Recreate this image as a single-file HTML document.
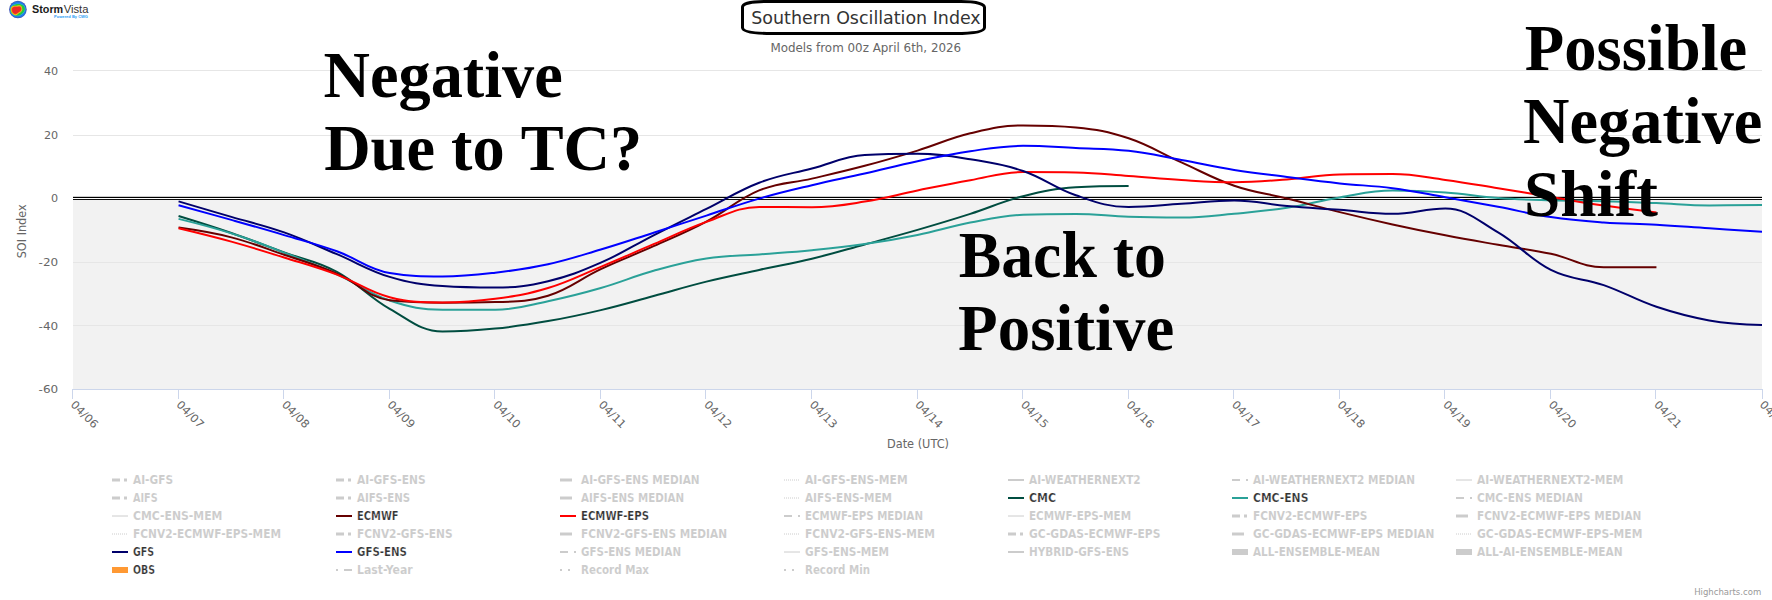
<!DOCTYPE html>
<html lang="en"><head><meta charset="utf-8"><title>Southern Oscillation Index</title>
<style>
html,body{margin:0;padding:0;background:#fff;}
body{width:1772px;height:600px;overflow:hidden;position:relative;}
svg{display:block;position:absolute;left:0;top:0;}
.ax{font-family:"DejaVu Sans", "Liberation Sans", sans-serif;font-size:11px;fill:#666;}
.lg{font-family:"DejaVu Sans Condensed", "DejaVu Sans", "Liberation Sans", sans-serif;font-size:12px;font-weight:bold;stroke:#fff;stroke-width:0.22px;}
.big{font-family:"Liberation Serif", serif;font-weight:bold;font-size:65px;fill:#000;font-kerning:none;}
.ti{font-family:"DejaVu Sans", "Liberation Sans", sans-serif;font-size:18px;fill:#333;}
.st{font-family:"DejaVu Sans", "Liberation Sans", sans-serif;font-size:12px;fill:#666;}
.cr{font-family:"DejaVu Sans", "Liberation Sans", sans-serif;font-size:9px;fill:#999;}
.lg1{font-family:"Liberation Sans",sans-serif;font-weight:bold;font-size:10px;fill:#1a1a1a;}
.lg2{font-family:"Liberation Sans",sans-serif;font-size:10px;fill:#333;}
.lg3{font-family:"Liberation Sans",sans-serif;font-weight:bold;font-size:3.7px;fill:#2a9df4;}
</style></head><body>
<svg width="1772" height="600" viewBox="0 0 1772 600">
<rect x="0" y="0" width="1772" height="600" fill="#ffffff"/>

<rect x="73" y="199.5" width="1689" height="190.0" fill="#f2f2f2"/>
<path d="M73 70.5H1762" stroke="#e6e6e6" stroke-width="1" fill="none"/>
<path d="M73 135.5H1762" stroke="#e6e6e6" stroke-width="1" fill="none"/>
<path d="M73 262.5H1762" stroke="#e6e6e6" stroke-width="1" fill="none"/>
<path d="M73 325.5H1762" stroke="#e6e6e6" stroke-width="1" fill="none"/>
<rect x="73" y="196.8" width="1689" height="1.3" fill="#000"/>
<rect x="73" y="198.1" width="1689" height="0.9" fill="#fff"/>
<rect x="73" y="199.0" width="1689" height="0.95" fill="#000"/>
<path d="M72 389.5H1763" stroke="#ccd6eb" stroke-width="1" fill="none"/>
<path d="M72.5 389.5V399" stroke="#ccd6eb" stroke-width="1" fill="none"/>
<path d="M178.5 389.5V399" stroke="#ccd6eb" stroke-width="1" fill="none"/>
<path d="M283.5 389.5V399" stroke="#ccd6eb" stroke-width="1" fill="none"/>
<path d="M389.5 389.5V399" stroke="#ccd6eb" stroke-width="1" fill="none"/>
<path d="M494.5 389.5V399" stroke="#ccd6eb" stroke-width="1" fill="none"/>
<path d="M600.5 389.5V399" stroke="#ccd6eb" stroke-width="1" fill="none"/>
<path d="M705.5 389.5V399" stroke="#ccd6eb" stroke-width="1" fill="none"/>
<path d="M811.5 389.5V399" stroke="#ccd6eb" stroke-width="1" fill="none"/>
<path d="M917.5 389.5V399" stroke="#ccd6eb" stroke-width="1" fill="none"/>
<path d="M1022.5 389.5V399" stroke="#ccd6eb" stroke-width="1" fill="none"/>
<path d="M1128.5 389.5V399" stroke="#ccd6eb" stroke-width="1" fill="none"/>
<path d="M1233.5 389.5V399" stroke="#ccd6eb" stroke-width="1" fill="none"/>
<path d="M1339.5 389.5V399" stroke="#ccd6eb" stroke-width="1" fill="none"/>
<path d="M1444.5 389.5V399" stroke="#ccd6eb" stroke-width="1" fill="none"/>
<path d="M1550.5 389.5V399" stroke="#ccd6eb" stroke-width="1" fill="none"/>
<path d="M1655.5 389.5V399" stroke="#ccd6eb" stroke-width="1" fill="none"/>
<path d="M1762.5 389.5V399" stroke="#ccd6eb" stroke-width="1" fill="none"/>
<text class="ax" x="44.0" y="75.0" textLength="14.2" lengthAdjust="spacingAndGlyphs">40</text>
<text class="ax" x="44.0" y="138.6" textLength="14.2" lengthAdjust="spacingAndGlyphs">20</text>
<text class="ax" x="51.1" y="202.3" textLength="7.1" lengthAdjust="spacingAndGlyphs">0</text>
<text class="ax" x="38.6" y="265.9" textLength="19.6" lengthAdjust="spacingAndGlyphs">-20</text>
<text class="ax" x="38.6" y="329.6" textLength="19.6" lengthAdjust="spacingAndGlyphs">-40</text>
<text class="ax" x="38.6" y="393.2" textLength="19.6" lengthAdjust="spacingAndGlyphs">-60</text>
<text class="ax" transform="translate(70.1,405.3) rotate(45)" x="0" y="0" textLength="33.5" lengthAdjust="spacingAndGlyphs">04/06</text>
<text class="ax" transform="translate(175.7,405.3) rotate(45)" x="0" y="0" textLength="33.5" lengthAdjust="spacingAndGlyphs">04/07</text>
<text class="ax" transform="translate(281.2,405.3) rotate(45)" x="0" y="0" textLength="33.5" lengthAdjust="spacingAndGlyphs">04/08</text>
<text class="ax" transform="translate(386.8,405.3) rotate(45)" x="0" y="0" textLength="33.5" lengthAdjust="spacingAndGlyphs">04/09</text>
<text class="ax" transform="translate(492.4,405.3) rotate(45)" x="0" y="0" textLength="33.5" lengthAdjust="spacingAndGlyphs">04/10</text>
<text class="ax" transform="translate(597.9,405.3) rotate(45)" x="0" y="0" textLength="33.5" lengthAdjust="spacingAndGlyphs">04/11</text>
<text class="ax" transform="translate(703.5,405.3) rotate(45)" x="0" y="0" textLength="33.5" lengthAdjust="spacingAndGlyphs">04/12</text>
<text class="ax" transform="translate(809.0,405.3) rotate(45)" x="0" y="0" textLength="33.5" lengthAdjust="spacingAndGlyphs">04/13</text>
<text class="ax" transform="translate(914.6,405.3) rotate(45)" x="0" y="0" textLength="33.5" lengthAdjust="spacingAndGlyphs">04/14</text>
<text class="ax" transform="translate(1020.2,405.3) rotate(45)" x="0" y="0" textLength="33.5" lengthAdjust="spacingAndGlyphs">04/15</text>
<text class="ax" transform="translate(1125.7,405.3) rotate(45)" x="0" y="0" textLength="33.5" lengthAdjust="spacingAndGlyphs">04/16</text>
<text class="ax" transform="translate(1231.3,405.3) rotate(45)" x="0" y="0" textLength="33.5" lengthAdjust="spacingAndGlyphs">04/17</text>
<text class="ax" transform="translate(1336.8,405.3) rotate(45)" x="0" y="0" textLength="33.5" lengthAdjust="spacingAndGlyphs">04/18</text>
<text class="ax" transform="translate(1442.4,405.3) rotate(45)" x="0" y="0" textLength="33.5" lengthAdjust="spacingAndGlyphs">04/19</text>
<text class="ax" transform="translate(1548.0,405.3) rotate(45)" x="0" y="0" textLength="33.5" lengthAdjust="spacingAndGlyphs">04/20</text>
<text class="ax" transform="translate(1653.5,405.3) rotate(45)" x="0" y="0" textLength="33.5" lengthAdjust="spacingAndGlyphs">04/21</text>
<text class="ax" transform="translate(1759.1,405.3) rotate(45)" x="0" y="0" textLength="33.5" lengthAdjust="spacingAndGlyphs">04/22</text>
<text class="ax" x="887" y="448" textLength="62" lengthAdjust="spacingAndGlyphs" style="font-size:12px">Date (UTC)</text>
<text class="ax" transform="translate(25.8,258.3) rotate(-90)" textLength="54" lengthAdjust="spacingAndGlyphs" style="font-size:12px">SOI Index</text>
<clipPath id="pc"><rect x="73" y="0" width="1689" height="390"/></clipPath>
<g clip-path="url(#pc)" fill="none" stroke-width="2" stroke-linejoin="round" stroke-linecap="butt">
<path d="M178.56 216.00C178.56 216.00 210.23 225.72 231.34 233.00C252.45 240.28 263.01 244.64 284.12 252.40C305.24 260.16 315.79 260.52 336.91 271.80C358.02 283.08 368.58 296.84 389.69 308.80C410.80 320.76 421.36 331.60 442.47 331.60C463.58 331.60 474.14 330.70 495.25 328.60C516.36 326.50 526.92 324.80 548.03 321.10C569.14 317.40 579.70 315.12 600.81 310.10C621.92 305.08 632.48 301.70 653.59 296.00C674.71 290.30 685.26 286.82 706.38 281.60C727.49 276.38 738.05 274.48 759.16 269.90C780.27 265.32 790.83 263.78 811.94 258.70C833.05 253.62 843.61 250.26 864.72 244.50C885.83 238.74 896.39 236.02 917.50 229.90C938.61 223.78 949.17 220.64 970.28 213.90C991.39 207.16 1001.95 201.52 1023.06 196.20C1044.17 190.88 1054.73 188.70 1075.84 187.30C1096.95 185.90 1128.62 185.90 1128.62 185.90" stroke="#004d40"/>
<path d="M178.56 218.90C178.56 218.90 210.23 226.66 231.34 233.40C252.45 240.14 263.01 244.42 284.12 252.60C305.24 260.78 315.79 264.72 336.91 274.30C358.02 283.88 368.58 293.42 389.69 300.50C410.80 307.58 421.36 309.60 442.47 309.70C463.58 309.80 474.14 309.80 495.25 309.80C516.36 309.80 526.92 305.56 548.03 301.20C569.14 296.84 579.70 294.08 600.81 288.00C621.92 281.92 632.48 276.70 653.59 270.80C674.71 264.90 685.26 261.78 706.38 258.50C727.49 255.22 738.05 256.06 759.16 254.40C780.27 252.74 790.83 252.26 811.94 250.20C833.05 248.14 843.61 247.14 864.72 244.10C885.83 241.06 896.39 239.30 917.50 235.00C938.61 230.70 949.17 226.64 970.28 222.60C991.39 218.56 1001.95 215.70 1023.06 214.80C1044.17 213.90 1054.73 213.90 1075.84 213.90C1096.95 213.90 1107.51 216.10 1128.62 216.80C1149.74 217.50 1160.29 217.50 1181.41 217.50C1202.52 217.50 1213.08 215.64 1234.19 213.70C1255.30 211.76 1265.86 211.06 1286.97 207.80C1308.08 204.54 1318.64 200.84 1339.75 197.40C1360.86 193.96 1371.42 190.60 1392.53 190.60C1413.64 190.60 1424.20 191.12 1445.31 192.60C1466.42 194.08 1476.98 196.46 1498.09 198.00C1519.21 199.54 1529.76 199.66 1550.88 200.30C1571.99 200.94 1582.55 200.64 1603.66 201.20C1624.77 201.76 1635.33 202.26 1656.44 203.10C1677.55 203.94 1688.11 205.40 1709.22 205.40C1730.33 205.40 1762.00 205.00 1762.00 205.00" stroke="#2aa198"/>
<path d="M178.56 227.60C178.56 227.60 210.23 231.98 231.34 237.40C252.45 242.82 263.01 247.46 284.12 254.70C305.24 261.94 315.79 264.48 336.91 273.60C358.02 282.72 368.58 297.90 389.69 300.30C410.80 302.70 421.36 302.70 442.47 302.70C463.58 302.70 474.14 302.70 495.25 302.10C516.36 301.50 526.92 302.10 548.03 295.70C569.14 289.30 579.70 279.00 600.81 269.10C621.92 259.20 632.48 255.68 653.59 246.20C674.71 236.72 685.26 232.86 706.38 221.70C727.49 210.54 738.05 199.02 759.16 190.40C780.27 181.78 790.83 183.52 811.94 178.60C833.05 173.68 843.61 171.40 864.72 165.80C885.83 160.20 896.39 157.10 917.50 150.60C938.61 144.10 949.17 138.34 970.28 133.30C991.39 128.26 1001.95 125.40 1023.06 125.40C1044.17 125.40 1054.73 125.40 1075.84 127.40C1096.95 129.40 1107.51 131.30 1128.62 138.30C1149.74 145.30 1160.29 152.92 1181.41 162.40C1202.52 171.88 1213.08 178.48 1234.19 185.70C1255.30 192.92 1265.86 193.22 1286.97 198.50C1308.08 203.78 1318.64 206.92 1339.75 212.10C1360.86 217.28 1371.42 219.76 1392.53 224.40C1413.64 229.04 1424.20 231.22 1445.31 235.30C1466.42 239.38 1476.98 241.10 1498.09 244.80C1519.21 248.50 1529.76 249.30 1550.88 253.80C1571.99 258.30 1582.55 267.30 1603.66 267.30C1624.77 267.30 1656.44 267.20 1656.44 267.20" stroke="#660000"/>
<path d="M178.56 228.20C178.56 228.20 210.23 235.74 231.34 241.60C252.45 247.46 263.01 250.90 284.12 257.50C305.24 264.10 315.79 266.66 336.91 274.60C358.02 282.54 368.58 291.90 389.69 297.20C410.80 302.50 421.36 302.50 442.47 302.50C463.58 302.50 474.14 301.70 495.25 298.80C516.36 295.90 526.92 294.40 548.03 288.00C569.14 281.60 579.70 275.56 600.81 266.80C621.92 258.04 632.48 253.18 653.59 244.20C674.71 235.22 685.26 229.34 706.38 221.90C727.49 214.46 738.05 207.00 759.16 207.00C780.27 207.00 790.83 207.20 811.94 207.20C833.05 207.20 843.61 204.94 864.72 201.60C885.83 198.26 896.39 194.78 917.50 190.50C938.61 186.22 949.17 183.90 970.28 180.20C991.39 176.50 1001.95 172.00 1023.06 172.00C1044.17 172.00 1054.73 172.00 1075.84 172.40C1096.95 172.80 1107.51 174.38 1128.62 175.90C1149.74 177.42 1160.29 178.74 1181.41 180.00C1202.52 181.26 1213.08 182.20 1234.19 182.20C1255.30 182.20 1265.86 181.04 1286.97 179.50C1308.08 177.96 1318.64 174.90 1339.75 174.50C1360.86 174.10 1371.42 174.10 1392.53 174.10C1413.64 174.10 1424.20 177.08 1445.31 179.90C1466.42 182.72 1476.98 184.78 1498.09 188.20C1519.21 191.62 1529.76 193.52 1550.88 197.00C1571.99 200.48 1582.55 202.52 1603.66 205.60C1624.77 208.68 1656.44 212.40 1656.44 212.40" stroke="#ff0000"/>
<path d="M178.56 201.40C178.56 201.40 210.23 210.70 231.34 216.90C252.45 223.10 263.01 224.94 284.12 232.40C305.24 239.86 315.79 245.30 336.91 254.20C358.02 263.10 368.58 270.52 389.69 276.90C410.80 283.28 421.36 284.60 442.47 286.10C463.58 287.60 474.14 287.60 495.25 287.60C516.36 287.60 526.92 286.18 548.03 281.20C569.14 276.22 579.70 271.88 600.81 262.70C621.92 253.52 632.48 246.06 653.59 235.30C674.71 224.54 685.26 219.42 706.38 208.90C727.49 198.38 738.05 190.78 759.16 182.70C780.27 174.62 790.83 174.02 811.94 168.50C833.05 162.98 843.61 156.40 864.72 155.10C885.83 153.80 896.39 153.80 917.50 153.80C938.61 153.80 949.17 155.86 970.28 159.30C991.39 162.74 1001.95 163.80 1023.06 171.00C1044.17 178.20 1054.73 188.12 1075.84 195.30C1096.95 202.48 1107.51 206.90 1128.62 206.90C1149.74 206.90 1160.29 205.00 1181.41 203.70C1202.52 202.40 1213.08 200.40 1234.19 200.40C1255.30 200.40 1265.86 204.12 1286.97 206.00C1308.08 207.88 1318.64 208.24 1339.75 209.80C1360.86 211.36 1371.42 213.80 1392.53 213.80C1413.64 213.80 1424.20 208.50 1445.31 208.50C1466.42 208.50 1476.98 220.12 1498.09 232.40C1519.21 244.68 1529.76 259.36 1550.88 269.90C1571.99 280.44 1582.55 277.72 1603.66 285.10C1624.77 292.48 1635.33 299.74 1656.44 306.80C1677.55 313.86 1688.11 316.74 1709.22 320.40C1730.33 324.06 1762.00 325.10 1762.00 325.10" stroke="#00006b"/>
<path d="M178.56 205.30C178.56 205.30 210.23 213.94 231.34 219.90C252.45 225.86 263.01 228.82 284.12 235.10C305.24 241.38 315.79 243.72 336.91 251.30C358.02 258.88 368.58 269.50 389.69 273.00C410.80 276.50 421.36 276.50 442.47 276.50C463.58 276.50 474.14 275.14 495.25 272.70C516.36 270.26 526.92 268.94 548.03 264.30C569.14 259.66 579.70 255.82 600.81 249.50C621.92 243.18 632.48 239.48 653.59 232.70C674.71 225.92 685.26 222.42 706.38 215.60C727.49 208.78 738.05 204.68 759.16 198.60C780.27 192.52 790.83 190.22 811.94 185.20C833.05 180.18 843.61 178.30 864.72 173.50C885.83 168.70 896.39 165.66 917.50 161.20C938.61 156.74 949.17 154.28 970.28 151.20C991.39 148.12 1001.95 145.80 1023.06 145.80C1044.17 145.80 1054.73 147.00 1075.84 148.00C1096.95 149.00 1107.51 148.40 1128.62 150.80C1149.74 153.20 1160.29 156.18 1181.41 160.00C1202.52 163.82 1213.08 166.50 1234.19 169.90C1255.30 173.30 1265.86 174.30 1286.97 177.00C1308.08 179.70 1318.64 181.16 1339.75 183.40C1360.86 185.64 1371.42 185.44 1392.53 188.20C1413.64 190.96 1424.20 193.48 1445.31 197.20C1466.42 200.92 1476.98 202.82 1498.09 206.80C1519.21 210.78 1529.76 213.98 1550.88 217.10C1571.99 220.22 1582.55 220.88 1603.66 222.40C1624.77 223.92 1635.33 223.52 1656.44 224.70C1677.55 225.88 1688.11 226.90 1709.22 228.30C1730.33 229.70 1762.00 231.70 1762.00 231.70" stroke="#0000ff"/>
</g>
<path d="M765 1.5H961C975 1.5 984.5 3.5 984.5 7.5V27.5C984.5 31.5 975 33.5 955 33.5H772C752 33.5 742.5 31.5 742.5 27.5V7C742.5 3.5 752 1.5 765 1.5Z" fill="#fff" stroke="#000" stroke-width="3"/>
<text x="751.3" y="23.7" textLength="229.4" lengthAdjust="spacingAndGlyphs" class="ti">Southern Oscillation Index</text>
<text x="770.4" y="51.6" textLength="190.8" lengthAdjust="spacingAndGlyphs" class="st">Models from 00z April 6th, 2026</text>
<text class="big" x="323.60" y="96.7" textLength="239.22" lengthAdjust="spacingAndGlyphs">Negative</text>
<text class="big" x="324.20" y="169.9" textLength="317.94" lengthAdjust="spacingAndGlyphs">Due to TC?</text>
<text class="big" x="958.70" y="276.7" textLength="207.19" lengthAdjust="spacingAndGlyphs">Back to</text>
<text class="big" x="958.10" y="349.9" textLength="216.12" lengthAdjust="spacingAndGlyphs">Positive</text>
<text class="big" x="1524.80" y="69.5" textLength="222.44" lengthAdjust="spacingAndGlyphs">Possible</text>
<text class="big" x="1523.10" y="142.9" textLength="239.33" lengthAdjust="spacingAndGlyphs">Negative</text>
<text class="big" x="1524.00" y="216.3" textLength="133.87" lengthAdjust="spacingAndGlyphs">Shift</text>
<path d="M112 480h8M124 480h3" stroke="#cccccc" stroke-width="3" fill="none"/>
<text class="lg" x="133" y="484" textLength="40" lengthAdjust="spacingAndGlyphs" fill="#cccccc" style="stroke-width:0.08px">AI-GFS</text>
<path d="M336 480h8M348 480h3" stroke="#cccccc" stroke-width="3" fill="none"/>
<text class="lg" x="357" y="484" textLength="68.6" lengthAdjust="spacingAndGlyphs" fill="#cccccc" style="stroke-width:0.08px">AI-GFS-ENS</text>
<path d="M560 480h12" stroke="#cccccc" stroke-width="3" fill="none"/>
<text class="lg" x="581" y="484" textLength="118.6" lengthAdjust="spacingAndGlyphs" fill="#cccccc" style="stroke-width:0.08px">AI-GFS-ENS MEDIAN</text>
<path d="M784 480h16" stroke="#cccccc" stroke-width="1" stroke-dasharray="1 1" fill="none"/>
<text class="lg" x="805" y="484" textLength="102.6" lengthAdjust="spacingAndGlyphs" fill="#cccccc" style="stroke-width:0.08px">AI-GFS-ENS-MEM</text>
<path d="M1008 480h16" stroke="#cccccc" stroke-width="2" fill="none"/>
<text class="lg" x="1029" y="484" textLength="111.6" lengthAdjust="spacingAndGlyphs" fill="#cccccc" style="stroke-width:0.08px">AI-WEATHERNEXT2</text>
<path d="M1232 480h8M1246 480h2" stroke="#cccccc" stroke-width="2" fill="none"/>
<text class="lg" x="1253" y="484" textLength="162" lengthAdjust="spacingAndGlyphs" fill="#cccccc" style="stroke-width:0.08px">AI-WEATHERNEXT2 MEDIAN</text>
<path d="M1456 480h16" stroke="#cccccc" stroke-width="1" fill="none"/>
<text class="lg" x="1477" y="484" textLength="146.3" lengthAdjust="spacingAndGlyphs" fill="#cccccc" style="stroke-width:0.08px">AI-WEATHERNEXT2-MEM</text>
<path d="M112 498h8M124 498h3" stroke="#cccccc" stroke-width="3" fill="none"/>
<text class="lg" x="133" y="502" textLength="24.6" lengthAdjust="spacingAndGlyphs" fill="#cccccc" style="stroke-width:0.08px">AIFS</text>
<path d="M336 498h8M348 498h3" stroke="#cccccc" stroke-width="3" fill="none"/>
<text class="lg" x="357" y="502" textLength="53" lengthAdjust="spacingAndGlyphs" fill="#cccccc" style="stroke-width:0.08px">AIFS-ENS</text>
<path d="M560 498h12" stroke="#cccccc" stroke-width="3" fill="none"/>
<text class="lg" x="581" y="502" textLength="103" lengthAdjust="spacingAndGlyphs" fill="#cccccc" style="stroke-width:0.08px">AIFS-ENS MEDIAN</text>
<path d="M784 498h16" stroke="#cccccc" stroke-width="1" stroke-dasharray="1 1" fill="none"/>
<text class="lg" x="805" y="502" textLength="87" lengthAdjust="spacingAndGlyphs" fill="#cccccc" style="stroke-width:0.08px">AIFS-ENS-MEM</text>
<path d="M1008 498H1024" stroke="#004d40" stroke-width="2" fill="none"/>
<text class="lg" x="1029" y="502" textLength="27" lengthAdjust="spacingAndGlyphs" fill="#333333">CMC</text>
<path d="M1232 498H1248" stroke="#2aa198" stroke-width="2" fill="none"/>
<text class="lg" x="1253" y="502" textLength="55.4" lengthAdjust="spacingAndGlyphs" fill="#333333">CMC-ENS</text>
<path d="M1456 498h8M1470 498h2" stroke="#cccccc" stroke-width="2" fill="none"/>
<text class="lg" x="1477" y="502" textLength="105.8" lengthAdjust="spacingAndGlyphs" fill="#cccccc" style="stroke-width:0.08px">CMC-ENS MEDIAN</text>
<path d="M112 516h16" stroke="#cccccc" stroke-width="1" fill="none"/>
<text class="lg" x="133" y="520" textLength="89.4" lengthAdjust="spacingAndGlyphs" fill="#cccccc" style="stroke-width:0.08px">CMC-ENS-MEM</text>
<path d="M336 516H352" stroke="#660000" stroke-width="2" fill="none"/>
<text class="lg" x="357" y="520" textLength="41.6" lengthAdjust="spacingAndGlyphs" fill="#333333">ECMWF</text>
<path d="M560 516H576" stroke="#ff0000" stroke-width="2" fill="none"/>
<text class="lg" x="581" y="520" textLength="68" lengthAdjust="spacingAndGlyphs" fill="#333333">ECMWF-EPS</text>
<path d="M784 516h8M798 516h2" stroke="#cccccc" stroke-width="2" fill="none"/>
<text class="lg" x="805" y="520" textLength="118" lengthAdjust="spacingAndGlyphs" fill="#cccccc" style="stroke-width:0.08px">ECMWF-EPS MEDIAN</text>
<path d="M1008 516h16" stroke="#cccccc" stroke-width="1" fill="none"/>
<text class="lg" x="1029" y="520" textLength="102" lengthAdjust="spacingAndGlyphs" fill="#cccccc" style="stroke-width:0.08px">ECMWF-EPS-MEM</text>
<path d="M1232 516h8M1244 516h3" stroke="#cccccc" stroke-width="3" fill="none"/>
<text class="lg" x="1253" y="520" textLength="114.4" lengthAdjust="spacingAndGlyphs" fill="#cccccc" style="stroke-width:0.08px">FCNV2-ECMWF-EPS</text>
<path d="M1456 516h12" stroke="#cccccc" stroke-width="3" fill="none"/>
<text class="lg" x="1477" y="520" textLength="164.3" lengthAdjust="spacingAndGlyphs" fill="#cccccc" style="stroke-width:0.08px">FCNV2-ECMWF-EPS MEDIAN</text>
<path d="M112 534h16" stroke="#cccccc" stroke-width="1" stroke-dasharray="1 1" fill="none"/>
<text class="lg" x="133" y="538" textLength="148" lengthAdjust="spacingAndGlyphs" fill="#cccccc" style="stroke-width:0.08px">FCNV2-ECMWF-EPS-MEM</text>
<path d="M336 534h8M348 534h3" stroke="#cccccc" stroke-width="3" fill="none"/>
<text class="lg" x="357" y="538" textLength="95.6" lengthAdjust="spacingAndGlyphs" fill="#cccccc" style="stroke-width:0.08px">FCNV2-GFS-ENS</text>
<path d="M560 534h12" stroke="#cccccc" stroke-width="3" fill="none"/>
<text class="lg" x="581" y="538" textLength="146" lengthAdjust="spacingAndGlyphs" fill="#cccccc" style="stroke-width:0.08px">FCNV2-GFS-ENS MEDIAN</text>
<path d="M784 534h16" stroke="#cccccc" stroke-width="1" stroke-dasharray="1 1" fill="none"/>
<text class="lg" x="805" y="538" textLength="130" lengthAdjust="spacingAndGlyphs" fill="#cccccc" style="stroke-width:0.08px">FCNV2-GFS-ENS-MEM</text>
<path d="M1008 534h8M1020 534h3" stroke="#cccccc" stroke-width="3" fill="none"/>
<text class="lg" x="1029" y="538" textLength="131.4" lengthAdjust="spacingAndGlyphs" fill="#cccccc" style="stroke-width:0.08px">GC-GDAS-ECMWF-EPS</text>
<path d="M1232 534h12" stroke="#cccccc" stroke-width="3" fill="none"/>
<text class="lg" x="1253" y="538" textLength="181.4" lengthAdjust="spacingAndGlyphs" fill="#cccccc" style="stroke-width:0.08px">GC-GDAS-ECMWF-EPS MEDIAN</text>
<path d="M1456 534h16" stroke="#cccccc" stroke-width="1" stroke-dasharray="1 1" fill="none"/>
<text class="lg" x="1477" y="538" textLength="165.4" lengthAdjust="spacingAndGlyphs" fill="#cccccc" style="stroke-width:0.08px">GC-GDAS-ECMWF-EPS-MEM</text>
<path d="M112 552H128" stroke="#00006b" stroke-width="2" fill="none"/>
<text class="lg" x="133" y="556" textLength="21" lengthAdjust="spacingAndGlyphs" fill="#333333">GFS</text>
<path d="M336 552H352" stroke="#0000ff" stroke-width="2" fill="none"/>
<text class="lg" x="357" y="556" textLength="50" lengthAdjust="spacingAndGlyphs" fill="#333333">GFS-ENS</text>
<path d="M560 552h8M574 552h2" stroke="#cccccc" stroke-width="2" fill="none"/>
<text class="lg" x="581" y="556" textLength="100" lengthAdjust="spacingAndGlyphs" fill="#cccccc" style="stroke-width:0.08px">GFS-ENS MEDIAN</text>
<path d="M784 552h16" stroke="#cccccc" stroke-width="1" fill="none"/>
<text class="lg" x="805" y="556" textLength="84" lengthAdjust="spacingAndGlyphs" fill="#cccccc" style="stroke-width:0.08px">GFS-ENS-MEM</text>
<path d="M1008 552h16" stroke="#cccccc" stroke-width="2" fill="none"/>
<text class="lg" x="1029" y="556" textLength="100" lengthAdjust="spacingAndGlyphs" fill="#cccccc" style="stroke-width:0.08px">HYBRID-GFS-ENS</text>
<rect x="1232" y="549" width="16" height="6" fill="#cccccc"/>
<text class="lg" x="1253" y="556" textLength="127" lengthAdjust="spacingAndGlyphs" fill="#cccccc" style="stroke-width:0.08px">ALL-ENSEMBLE-MEAN</text>
<rect x="1456" y="549" width="16" height="6" fill="#cccccc"/>
<text class="lg" x="1477" y="556" textLength="145.6" lengthAdjust="spacingAndGlyphs" fill="#cccccc" style="stroke-width:0.08px">ALL-AI-ENSEMBLE-MEAN</text>
<rect x="112" y="567" width="16" height="6" fill="#ff9933"/>
<text class="lg" x="133" y="574" textLength="22" lengthAdjust="spacingAndGlyphs" fill="#333333">OBS</text>
<path d="M336 570h2M344 570h8" stroke="#cccccc" stroke-width="2" fill="none"/>
<text class="lg" x="357" y="574" textLength="55.6" lengthAdjust="spacingAndGlyphs" fill="#cccccc" style="stroke-width:0.08px">Last-Year</text>
<path d="M560 570h2M568 570h2" stroke="#cccccc" stroke-width="2" fill="none"/>
<text class="lg" x="581" y="574" textLength="68" lengthAdjust="spacingAndGlyphs" fill="#cccccc" style="stroke-width:0.08px">Record Max</text>
<path d="M784 570h2M792 570h2" stroke="#cccccc" stroke-width="2" fill="none"/>
<text class="lg" x="805" y="574" textLength="65" lengthAdjust="spacingAndGlyphs" fill="#cccccc" style="stroke-width:0.08px">Record Min</text>
<text x="1694.2" y="595" textLength="67" lengthAdjust="spacingAndGlyphs" class="cr">Highcharts.com</text>
<g id="logo">
<circle cx="17.9" cy="9.5" r="8.8" fill="#4456b8"/>
<circle cx="17.9" cy="9.5" r="8.1" fill="#1e7ee6"/>
<path d="M10.0 9.6C10.2 6.2 13.8 3.6 18.3 3.6C22.8 3.6 25.6 6.2 25.4 9.2C25.2 12.2 22.8 13.9 20.8 15.2C19 16.3 16.5 16.5 14.3 15.7C11.6 14.7 9.8 12.4 10.0 9.6Z" fill="#35a8ea"/>
<path d="M10.4 9.6C10.6 6.5 14 4.1 18.3 4.1C22.5 4.1 25.0 6.5 24.8 9.2C24.6 11.9 22.5 13.5 20.6 14.8C19 15.8 16.5 16 14.5 15.3C12 14.3 10.2 12.3 10.4 9.6Z" fill="#22c840"/>
<path id="rb" d="M11.6 9.9C11.4 8 12.7 6.9 14.1 6.6C15.5 6.3 16.6 6.8 17.8 6.4C19.3 5.9 20.8 6.3 21.3 7.7C21.8 9.1 21.4 10.4 20.4 11.4C19.4 12.3 18.2 12.5 17.3 13.5C16.5 14.4 15.1 14.6 13.9 13.8C12.6 12.9 11.8 11.6 11.6 9.9Z" fill="#f7b21e" stroke="#f5dc14" stroke-width="1.7" stroke-linejoin="round"/>
<path d="M11.6 9.9C11.4 8 12.7 6.9 14.1 6.6C15.5 6.3 16.6 6.8 17.8 6.4C19.3 5.9 20.8 6.3 21.3 7.7C21.8 9.1 21.4 10.4 20.4 11.4C19.4 12.3 18.2 12.5 17.3 13.5C16.5 14.4 15.1 14.6 13.9 13.8C12.6 12.9 11.8 11.6 11.6 9.9Z" fill="#ee2a28" stroke="#f58a1e" stroke-width="0.6" stroke-linejoin="round"/>
<text class="lg1" x="32" y="12.6" textLength="31.2" lengthAdjust="spacingAndGlyphs">Storm</text>
<text class="lg2" x="63.7" y="12.6" textLength="24.8" lengthAdjust="spacingAndGlyphs">Vista</text>
<text class="lg3" x="54" y="18.1" textLength="34" lengthAdjust="spacingAndGlyphs">Powered By CWG</text>
</g>
</svg></body></html>
